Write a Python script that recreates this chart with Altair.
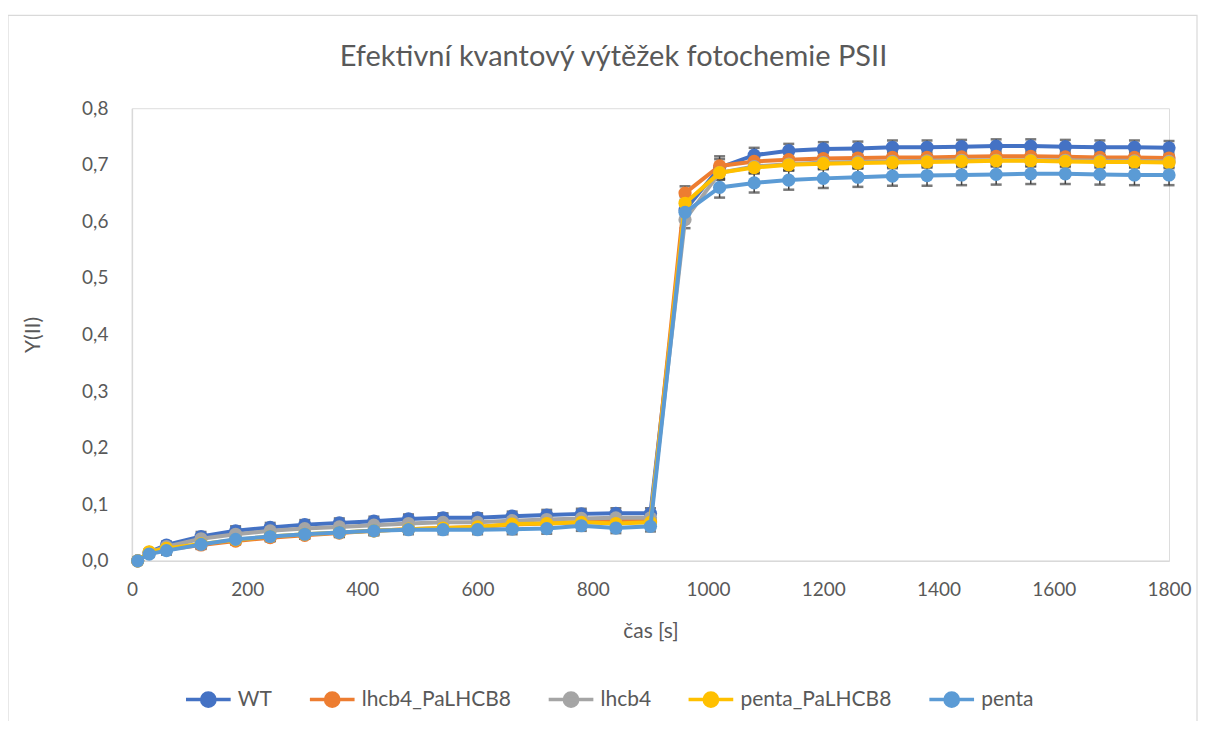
import altair as alt
import pandas as pd

times = [10, 30, 60, 120, 180, 240, 300, 360, 420, 480, 540, 600, 660, 720, 780, 840, 900,
         960, 1020, 1080, 1140, 1200, 1260, 1320, 1380, 1440, 1500, 1560, 1620, 1680, 1740, 1800]

series_names = ["WT", "lhcb4_PaLHCB8", "lhcb4", "penta_PaLHCB8", "penta"]
series_colors = ["#4472C4", "#ED7D31", "#A5A5A5", "#FFC000", "#5B9BD5"]

wt = [0.000, 0.015, 0.028, 0.043, 0.053, 0.059, 0.064, 0.067, 0.070, 0.074, 0.076, 0.076, 0.079, 0.081, 0.083, 0.084, 0.084,
      0.620, 0.695, 0.717, 0.725, 0.728, 0.729, 0.731, 0.731, 0.732, 0.733, 0.733, 0.732, 0.731, 0.731, 0.730]
lhcb4_pa = [0.000, 0.014, 0.020, 0.028, 0.035, 0.041, 0.045, 0.049, 0.053, 0.056, 0.058, 0.060, 0.064, 0.066, 0.068, 0.072, 0.070,
            0.650, 0.698, 0.706, 0.709, 0.711, 0.712, 0.713, 0.713, 0.714, 0.715, 0.715, 0.714, 0.713, 0.713, 0.712]
lhcb4 = [0.000, 0.015, 0.025, 0.039, 0.047, 0.053, 0.057, 0.060, 0.063, 0.066, 0.068, 0.068, 0.071, 0.073, 0.075, 0.076, 0.076,
         0.603, 0.686, 0.697, 0.701, 0.704, 0.705, 0.706, 0.707, 0.708, 0.708, 0.708, 0.708, 0.707, 0.707, 0.706]
penta_pa = [0.000, 0.016, 0.022, 0.030, 0.037, 0.043, 0.047, 0.050, 0.053, 0.056, 0.058, 0.060, 0.065, 0.066, 0.068, 0.066, 0.068,
            0.632, 0.686, 0.695, 0.700, 0.702, 0.703, 0.704, 0.705, 0.706, 0.707, 0.707, 0.706, 0.705, 0.705, 0.704]
penta = [0.000, 0.012, 0.018, 0.029, 0.038, 0.043, 0.047, 0.050, 0.053, 0.055, 0.055, 0.055, 0.056, 0.057, 0.062, 0.058, 0.061,
         0.616, 0.660, 0.668, 0.673, 0.676, 0.678, 0.680, 0.681, 0.682, 0.683, 0.684, 0.684, 0.683, 0.682, 0.682]

wt_err = [0.000, 0.004, 0.006, 0.008, 0.008, 0.008, 0.008, 0.008, 0.008, 0.008, 0.008, 0.008, 0.008, 0.009, 0.009, 0.009, 0.009,
          0.015, 0.020, 0.013, 0.012, 0.012, 0.012, 0.012, 0.012, 0.012, 0.012, 0.012, 0.012, 0.012, 0.012, 0.012]
lhcb4_pa_err = [0.000, 0.004, 0.005, 0.006, 0.006, 0.006, 0.006, 0.006, 0.006, 0.006, 0.006, 0.006, 0.007, 0.007, 0.007, 0.007, 0.007,
                0.012, 0.012, 0.010, 0.010, 0.010, 0.010, 0.010, 0.010, 0.010, 0.010, 0.010, 0.010, 0.010, 0.010, 0.010]
lhcb4_err = [0.000, 0.004, 0.005, 0.006, 0.006, 0.006, 0.006, 0.006, 0.006, 0.006, 0.006, 0.006, 0.007, 0.007, 0.007, 0.007, 0.007,
             0.015, 0.012, 0.010, 0.010, 0.010, 0.010, 0.010, 0.010, 0.010, 0.010, 0.010, 0.010, 0.010, 0.010, 0.010]
penta_pa_err = [0.000, 0.004, 0.005, 0.006, 0.006, 0.006, 0.006, 0.006, 0.006, 0.006, 0.006, 0.006, 0.007, 0.007, 0.007, 0.007, 0.007,
                0.012, 0.012, 0.010, 0.010, 0.010, 0.010, 0.010, 0.010, 0.010, 0.010, 0.010, 0.010, 0.010, 0.010, 0.010]
penta_err = [0.000, 0.005, 0.007, 0.008, 0.008, 0.008, 0.008, 0.008, 0.008, 0.008, 0.008, 0.008, 0.009, 0.009, 0.009, 0.009, 0.009,
             0.015, 0.018, 0.017, 0.017, 0.017, 0.017, 0.017, 0.018, 0.018, 0.018, 0.018, 0.018, 0.018, 0.018, 0.018]

values = [wt, lhcb4_pa, lhcb4, penta_pa, penta]
errors = [wt_err, lhcb4_pa_err, lhcb4_err, penta_pa_err, penta_err]

rows = []
for name, vals, errs in zip(series_names, values, errors):
    for t, v, e in zip(times, vals, errs):
        rows.append({"t": t, "series": name, "y": v, "err": e})
df = pd.DataFrame(rows)

FONT = "Lato"
TXT = "#595959"

x_enc = alt.X("t:Q", scale=alt.Scale(domain=[0, 1800], nice=False, zero=False, padding=0),
              axis=alt.Axis(title="čas [s]", values=list(range(0, 1801, 200)), format="d",
                            grid=False, ticks=False, labelFlush=False,
                            domainColor="#D9D9D9", domainWidth=1.5,
                            labelPadding=20, titlePadding=21, labelFontSize=19, titleFontSize=21,
                            labelColor=TXT, titleColor=TXT, labelFont=FONT, titleFont=FONT,
                            titleFontWeight="normal"))
y_scale = alt.Scale(domain=[0, 0.8], nice=False, padding=0)
y_axis = alt.Axis(title="Y(II)", values=[0, 0.1, 0.2, 0.3, 0.4, 0.5, 0.6, 0.7, 0.8],
                  labelExpr="replace(format(datum.value, '.1f'), '.', ',')",
                  grid=False, ticks=False, labelFlush=False,
                  domainColor="#D9D9D9", domainWidth=1.5,
                  labelPadding=24, titlePadding=38, labelFontSize=19, titleFontSize=21,
                  labelColor=TXT, titleColor=TXT, labelFont=FONT, titleFont=FONT,
                  titleFontWeight="normal")
y_enc = alt.Y("y:Q", scale=y_scale, axis=y_axis)

legend_symbol = "M-1,0L1,0M0.3,0A0.3,0.3,0,1,1,-0.3,0A0.3,0.3,0,1,1,0.3,0Z"
color_enc = alt.Color("series:N",
                      scale=alt.Scale(domain=series_names, range=series_colors),
                      legend=alt.Legend(title=None, orient="none", direction="horizontal",
                                        legendX=52, legendY=567,
                                        symbolType=legend_symbol, symbolSize=2000,
                                        symbolStrokeWidth=3.5, labelFontSize=21,
                                        labelFont=FONT, labelColor=TXT, labelOffset=5,
                                        columnPadding=30))

base = alt.Chart(df)

# chart-area frame (decoration, like the Excel chart border)
frame = alt.Chart(pd.DataFrame({"k": [0]})).mark_rect(
    fillOpacity=0, stroke="#D9D9D9", strokeWidth=1.2
).encode(x=alt.value(-124), x2=alt.value(1066), y=alt.value(-93), y2=alt.value(660))

err_rule = base.mark_rule(color="#404040", strokeWidth=1.5).transform_calculate(
    lo="datum.y - datum.err", hi="datum.y + datum.err"
).encode(x=x_enc, y=alt.Y("lo:Q", scale=y_scale, axis=y_axis), y2="hi:Q")
err_lo = base.mark_tick(color="#404040", orient="horizontal", size=11, thickness=2.5).transform_calculate(
    lo="datum.y - datum.err"
).transform_filter("datum.err > 0").encode(x=x_enc, y=alt.Y("lo:Q", scale=y_scale, axis=y_axis))
err_hi = base.mark_tick(color="#404040", orient="horizontal", size=11, thickness=2.5).transform_calculate(
    hi="datum.y + datum.err"
).transform_filter("datum.err > 0").encode(x=x_enc, y=alt.Y("hi:Q", scale=y_scale, axis=y_axis))

layers = [frame, err_rule, err_lo, err_hi]
for name in series_names:
    sel = base.transform_filter(alt.datum.series == name)
    layers.append(sel.mark_line(strokeWidth=4).encode(x=x_enc, y=y_enc, color=color_enc))
    layers.append(sel.mark_point(filled=True, opacity=1, size=175).encode(x=x_enc, y=y_enc, color=color_enc))

chart = alt.layer(*layers).properties(
    width=1038, height=453,
    autosize="none",
    padding={"left": 124, "top": 100, "right": 30, "bottom": 160},
    title=alt.TitleParams("Efektivní kvantový výtěžek fotochemie PSII", fontSize=29,
                          font=FONT, color=TXT, fontWeight="normal", offset=-57, dx=-37),
).configure_view(stroke=None).configure(background="white")

chart.save("out.html", embed_options={"renderer": "svg", "actions": False})
